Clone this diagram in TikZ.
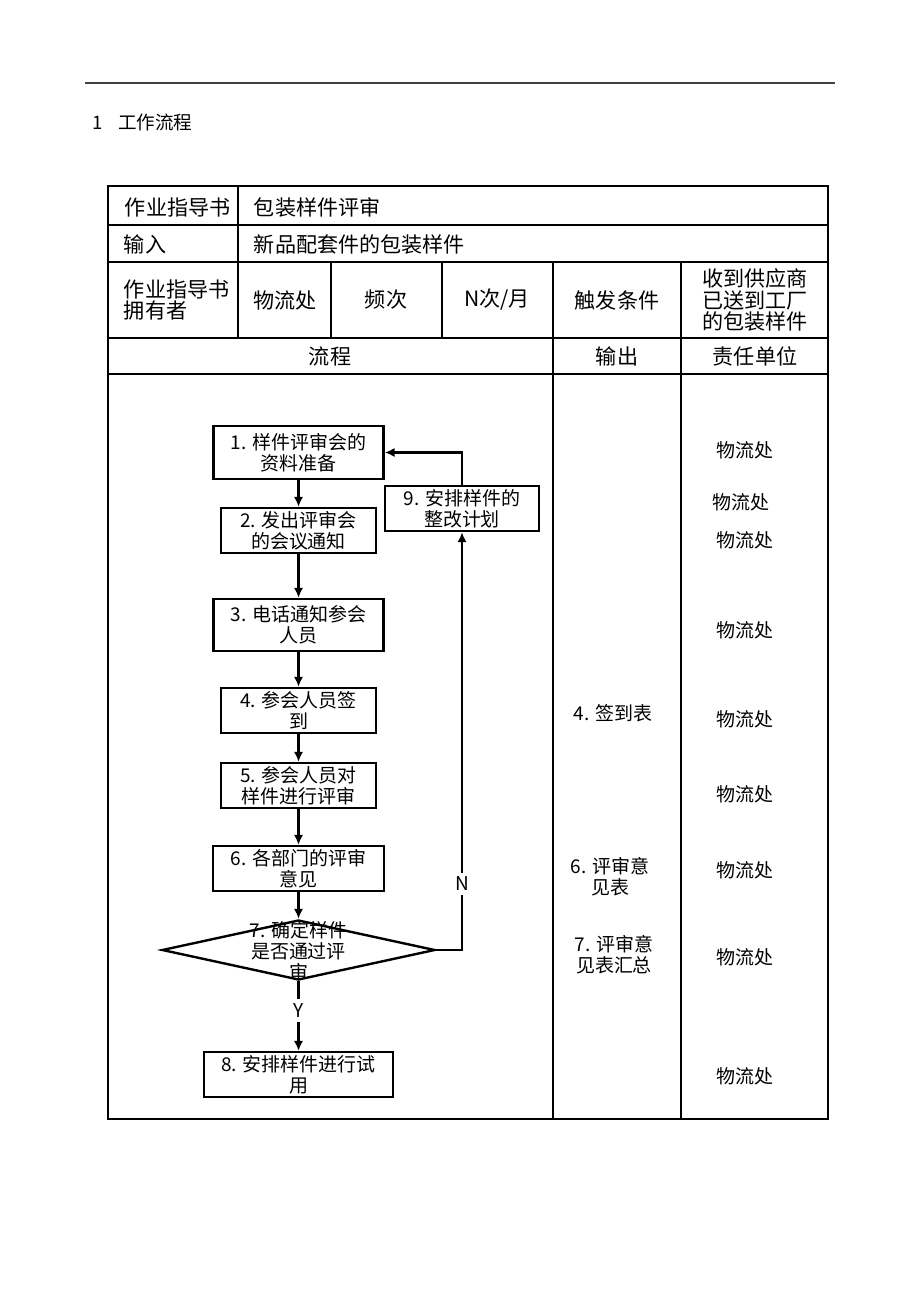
\documentclass[tikz,border=0pt]{standalone}
\usepackage{fontspec}
\setmainfont{Noto Sans CJK SC}
\usetikzlibrary{shapes.geometric,arrows.meta}
\tikzset{
  stepbox/.style={draw,line width=1.7pt,align=center,inner sep=0pt},
  flow/.style={->,>={Latex[length=7pt,width=6.5pt]},line width=1.7pt},
  headcell/.style={font=\fontsize{15}{15.6}\selectfont}
}
\begin{document}
\begin{tikzpicture}[x=0.025cm,y=-0.025cm,font=\fontsize{13.5}{15}\selectfont]
\useasboundingbox (0,0) rectangle (920,1302);
% page rule and heading
\draw[line width=1.1pt,black!75] (85,83) -- (835,83);
\node[anchor=west,font=\fontsize{13.2}{15}\selectfont](H) at (88,122) {1\hspace{0.8em}工作流程};
% table frame
\begin{scope}[line width=1.8pt]
\draw (108,186) rectangle (828,1119);
\foreach \y in {225,262,338,374} \draw (108,\y) -- (828,\y);
\draw (238,186) -- (238,338);
\foreach \x in {331,442} \draw (\x,262) -- (\x,338);
\foreach \x in {553,681} \draw (\x,262) -- (\x,1119);
\end{scope}
% table head
\node[headcell,anchor=west](T1) at (120,207) {作业指导书};
\node[headcell,anchor=west](T2) at (249,207) {包装样件评审};
\node[headcell,anchor=west](IN) at (119,244) {输入};
\node[headcell,anchor=west](INV) at (249,244) {新品配套件的包装样件};
\node[headcell,anchor=west,align=left](OWN) at (119,300) {作业指导书\\拥有者};
\node[headcell](OWNV) at (285,300) {物流处};
\node[headcell](FQ) at (386,300) {频次};
\node[headcell](FQV) at (497,300) {N次/月};
\node[headcell](TR) at (617,300) {触发条件};
\node[headcell,align=center](TRV) at (755,300) {收到供应商\\已送到工厂\\的包装样件};
\node[headcell](FL) at (330,356) {流程};
\node[headcell](OUT) at (617,356) {输出};
\node[headcell](RS) at (755,356) {责任单位};
% flow
\node[stepbox,minimum width=4.25cm,minimum height=1.325cm](S1) at (298.5,452.5) {1. 样件评审会的\\资料准备};
\node[stepbox,minimum width=3.875cm,minimum height=1.125cm](S2) at (298.5,530.5) {2. 发出评审会\\的会议通知};
\node[stepbox,minimum width=4.25cm,minimum height=1.3cm](S3) at (298.5,625) {3. 电话通知参会\\人员};
\node[stepbox,minimum width=3.875cm,minimum height=1.125cm](S4) at (298.5,710.5) {4. 参会人员签\\到};
\node[stepbox,minimum width=3.875cm,minimum height=1.125cm](S5) at (298.5,785.5) {5. 参会人员对\\样件进行评审};
\node[stepbox,minimum width=4.275cm,minimum height=1.125cm](S6) at (298.5,868.5) {6. 各部门的评审\\意见};
\node[draw,diamond,line width=1.7pt,inner sep=0pt,minimum width=6.825cm,minimum height=1.5cm](S7) at (298.5,950) {};
\node[align=center](S7T) at (298.5,951) {7. 确定样件\\是否通过评\\审};
\node[stepbox,minimum width=4.725cm,minimum height=1.125cm](S8) at (298.5,1074.5) {8. 安排样件进行试\\用};
\node[stepbox,minimum width=3.85cm,minimum height=1.125cm](S9) at (462,508.5) {9. 安排样件的\\整改计划};
\draw[flow] (S1) -- (S2);
\draw[flow] (S2) -- (S3);
\draw[flow] (S3) -- (S4);
\draw[flow] (S4) -- (S5);
\draw[flow] (S5) -- (S6);
\draw[flow] (S6.south) -- (S7.north);
\draw[flow] (S7.south) -- node[pos=0.42,fill=white,inner sep=3pt](Y){Y} (S8.north);
\draw[flow] (S7.east) -| node[pos=0.579,fill=white,inner sep=3pt](N){N} (S9.south);
\draw[flow] (S9.north) |- (S1.east);
% output column
\node(O4) at (613,713) {4. 签到表};
\node[align=center](O6) at (610,877) {6. 评审意\\见表};
\node[align=center](O7) at (614,955) {7. 评审意\\见表汇总};
% responsible column
\foreach \y [count=\i] in {450,540,630,719,794,870,957,1076}
  \node(R\i) at (745,\y) {物流处};
\node(R9) at (741,502) {物流处};
\end{tikzpicture}
\end{document}
